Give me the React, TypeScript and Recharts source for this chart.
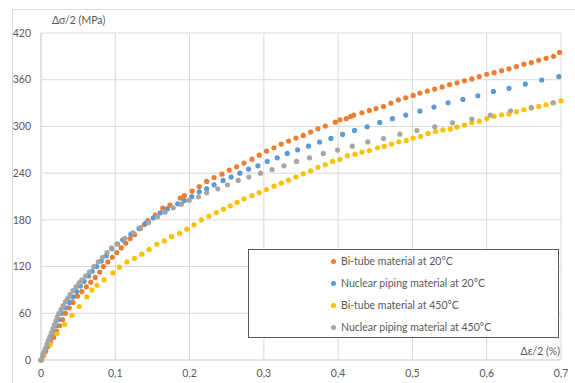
import React from "react";
import { ScatterChart, Scatter, XAxis, YAxis, CartesianGrid } from "recharts";

// Δε/2 (%) , Δσ/2 (MPa)
const biTube20: [number, number][] = [
  [0, 0], [0.003, 5], [0.006, 11], [0.009, 17], [0.013, 23], [0.017, 29], [0.021, 37], [0.025, 44],
  [0.029, 52], [0.033, 60], [0.038, 67], [0.043, 74], [0.049, 82], [0.055, 88], [0.061, 94], [0.067, 100],
  [0.073, 106], [0.079, 113], [0.084, 120], [0.09, 126], [0.096, 132], [0.102, 138], [0.108, 144],
  [0.114, 150], [0.12, 156], [0.126, 161], [0.1336, 168.8], [0.139, 174], [0.144, 179], [0.154, 186],
  [0.164, 195], [0.1736, 199], [0.1875, 208], [0.193, 211], [0.2036, 217], [0.213, 222.8], [0.223, 229.3],
  [0.233, 234.4], [0.2436, 238.7], [0.2534, 243.9], [0.2633, 248.1], [0.2732, 252.9], [0.284, 258],
  [0.2938, 263.1], [0.3036, 268.3], [0.3136, 272.6], [0.3234, 277.3], [0.3333, 281.2], [0.3432, 285],
  [0.353, 288.4], [0.363, 292.7], [0.3728, 297], [0.3827, 300.4], [0.3961, 305.5], [0.4024, 308.6],
  [0.411, 310], [0.417, 312.9], [0.421, 314.6], [0.432, 317.6], [0.442, 320.6], [0.451, 323],
  [0.461, 325.7], [0.471, 330], [0.481, 334], [0.491, 336.8], [0.501, 339.8], [0.51, 342.9],
  [0.52, 345.4], [0.53, 348], [0.54, 350.8], [0.55, 353.8], [0.56, 356], [0.57, 358.7], [0.58, 361],
  [0.59, 364], [0.6, 367], [0.61, 369], [0.62, 371.6], [0.63, 374], [0.64, 377], [0.65, 380],
  [0.66, 382], [0.67, 385], [0.68, 387.5], [0.69, 390], [0.698, 395],
];

const nuclear20: [number, number][] = [
  [0, 0], [0.003, 7], [0.006, 14], [0.009, 21], [0.012, 28], [0.016, 36], [0.02, 44], [0.024, 52],
  [0.028, 60], [0.033, 67], [0.038, 74], [0.043, 81], [0.048, 88], [0.053, 95], [0.058, 101],
  [0.064, 108], [0.069, 114], [0.075, 120], [0.081, 127], [0.088, 134], [0.0955, 143], [0.103, 149],
  [0.11, 154.3], [0.121, 161.6], [0.132, 168.8], [0.141, 175.7], [0.151, 182.6], [0.1605, 189],
  [0.17, 194.1], [0.184, 200.6], [0.193, 204.8], [0.203, 210], [0.213, 216], [0.223, 219.9],
  [0.233, 225], [0.245, 230.6], [0.256, 234.9], [0.2677, 240], [0.2794, 245.2], [0.292, 249.4],
  [0.3046, 255], [0.318, 259.7], [0.3315, 265.3], [0.3454, 270], [0.3602, 274.7], [0.375, 279.9],
  [0.3903, 284.6], [0.406, 289.7], [0.422, 294.9], [0.439, 299.6], [0.456, 305.1], [0.473, 309.9],
  [0.491, 314.6], [0.51, 319.7], [0.529, 324.9], [0.548, 330.4], [0.568, 334.7], [0.588, 339.4],
  [0.609, 345], [0.63, 349], [0.652, 354.4], [0.674, 359.6], [0.697, 364],
];

const biTube450: [number, number][] = [
  [0, 0], [0.004, 7], [0.0125, 20], [0.0215, 34], [0.0318, 45.9], [0.0416, 57.4], [0.0515, 68.6],
  [0.0618, 81], [0.0685, 90], [0.0753, 96], [0.085, 102.9], [0.0968, 111.8], [0.1057, 119.2],
  [0.1156, 126], [0.1258, 130.5], [0.1357, 135.9], [0.1456, 142], [0.156, 148.7], [0.166, 153],
  [0.1757, 158.5], [0.1865, 162.8], [0.1963, 168], [0.206, 173.6], [0.216, 180], [0.226, 184.7],
  [0.236, 189.4], [0.2457, 193.7], [0.2547, 198], [0.264, 202.5], [0.2732, 207], [0.284, 211.3],
  [0.2938, 215.1], [0.3036, 219], [0.3136, 223.3], [0.3234, 227.1], [0.3333, 231], [0.3432, 234.9],
  [0.353, 239.1], [0.363, 243], [0.3728, 247.3], [0.3827, 250.7], [0.3925, 255], [0.4024, 257.6],
  [0.4123, 262.5], [0.4226, 264.4], [0.432, 267], [0.442, 269.1], [0.453, 272.6], [0.462, 274.3],
  [0.4718, 277.3], [0.4817, 280.3], [0.4916, 282], [0.501, 285], [0.511, 287.2], [0.521, 291],
  [0.531, 293.6], [0.541, 295.5], [0.551, 296.5], [0.56, 299], [0.57, 301.7], [0.58, 304.7],
  [0.59, 306.8], [0.6, 310], [0.61, 313], [0.62, 315], [0.63, 316], [0.64, 319], [0.65, 321.4],
  [0.66, 323.5], [0.67, 325.7], [0.68, 327.8], [0.69, 330.4], [0.7, 333],
];

const nuclear450: [number, number][] = [
  [0, 0], [0.002, 5], [0.004, 10], [0.006, 15], [0.008, 20], [0.01, 25], [0.012, 30], [0.014, 35],
  [0.016, 40], [0.018, 45], [0.02, 50], [0.022, 55], [0.024, 60], [0.027, 65], [0.03, 70], [0.033, 75],
  [0.036, 79], [0.039, 84], [0.043, 89], [0.047, 94], [0.051, 99], [0.055, 103], [0.06, 108],
  [0.065, 113], [0.071, 120], [0.077, 126], [0.083, 132], [0.089, 138], [0.095, 144], [0.102, 149],
  [0.113, 156.4], [0.124, 163.3], [0.134, 170.1], [0.145, 176.5], [0.157, 184], [0.167, 189.8],
  [0.178, 195.4], [0.189, 200.2], [0.1996, 205.3], [0.212, 209.6], [0.223, 214.7], [0.238, 219.8],
  [0.251, 225], [0.2655, 230.6], [0.2799, 234.9], [0.2955, 240], [0.311, 244.7], [0.327, 249.4],
  [0.344, 255], [0.3615, 259.7], [0.38, 265.3], [0.3992, 269.6], [0.419, 274.7], [0.44, 280.1],
  [0.461, 284.4], [0.483, 290], [0.506, 294.8], [0.53, 299.6], [0.554, 304.7], [0.58, 309.4],
  [0.605, 314.5], [0.632, 320], [0.66, 324.4], [0.689, 330.4],
];

const seriesNames = [
  "Bi-tube material at 20°C",
  "Nuclear piping material at 20°C",
  "Bi-tube material at 450°C",
  "Nuclear piping material at 450°C",
];
const seriesColors = ["#ED7D31", "#5B9BD5", "#FFC000", "#A5A5A5"];
const seriesData = [biTube20, nuclear20, biTube450, nuclear450];

const xTicks = [0, 0.1, 0.2, 0.3, 0.4, 0.5, 0.6, 0.7];
const yTicks = [0, 60, 120, 180, 240, 300, 360, 420];

const FONT = "Lato, 'Liberation Sans', sans-serif";
const TXT = "#595959";

const toPoints = (arr: [number, number][]) => arr.map(([x, y]) => ({ x, y }));

const Dot = (color: string) => (props: any) => {
  const { cx, cy } = props;
  if (cx == null || cy == null) return null;
  return <circle cx={cx} cy={cy} r={2.6} fill={color} />;
};

const LegendBox = () => (
  <div
    style={{
      position: "absolute",
      left: 248,
      top: 249,
      width: 311,
      height: 89,
      border: "1px solid #595959",
      background: "#fff",
      boxSizing: "border-box",
      fontFamily: FONT,
      fontSize: 10.5,
      color: TXT,
      paddingTop: 0,
    }}
  >
    {seriesNames.map((n, i) => (
      <div key={n} style={{ display: "flex", alignItems: "center", height: 22, paddingLeft: 82, marginTop: i === 0 ? 0 : 0 }}>
        <span
          style={{
            display: "inline-block",
            width: 5,
            height: 5,
            borderRadius: "50%",
            background: seriesColors[i],
            marginRight: 5,
          }}
        />
        <span>{n}</span>
      </div>
    ))}
  </div>
);

export default function App() {
  return (
    <div style={{ position: "absolute", left: 0, top: 0, width: 575, height: 383, background: "#fff", overflow: "hidden" }}>
      <div
        style={{
          position: "absolute",
          left: 12,
          top: 9,
          width: 575,
          height: 383,
          border: "1px solid #D9D9D9",
          boxSizing: "border-box",
        }}
      />
      <ScatterChart
        width={575}
        height={383}
        margin={{ top: 33, right: 14, left: 0, bottom: 0 }}
        style={{ position: "absolute", left: 0, top: 0 }}
      >
        <CartesianGrid stroke="#D9D9D9" strokeWidth={1} />
        <XAxis
          type="number"
          dataKey="x"
          domain={[0, 0.7]}
          ticks={xTicks}
          interval={0}
          height={23}
          axisLine={{ stroke: "#D9D9D9" }}
          tickLine={false}
          tickSize={0}
          tickMargin={10}
          tick={{ fill: TXT, fontSize: 10.5, fontFamily: FONT }}
          tickFormatter={(v: number) => String(Number(v.toFixed(1))).replace(".", ",")}
        />
        <YAxis
          type="number"
          dataKey="y"
          domain={[0, 420]}
          ticks={yTicks}
          interval={0}
          width={41}
          axisLine={{ stroke: "#D9D9D9" }}
          tickLine={false}
          tickSize={0}
          tickMargin={10}
          tick={{ fill: TXT, fontSize: 10.5, fontFamily: FONT }}
        />
        {seriesData.map((d, i) => (
          <Scatter
            key={seriesNames[i]}
            name={seriesNames[i]}
            data={toPoints(d)}
            fill={seriesColors[i]}
            shape={Dot(seriesColors[i])}
            isAnimationActive={false}
          />
        ))}
      </ScatterChart>
      <LegendBox />
      <div
        style={{
          position: "absolute",
          left: 52,
          top: 14,
          fontFamily: FONT,
          fontSize: 10.5,
          color: TXT,
          whiteSpace: "nowrap",
        }}
      >
        Δσ/2 (MPa)
      </div>
      <div
        style={{
          position: "absolute",
          right: 15,
          top: 345,
          fontFamily: FONT,
          fontSize: 10.5,
          color: TXT,
          whiteSpace: "nowrap",
        }}
      >
        Δε/2 (%)
      </div>
    </div>
  );
}
